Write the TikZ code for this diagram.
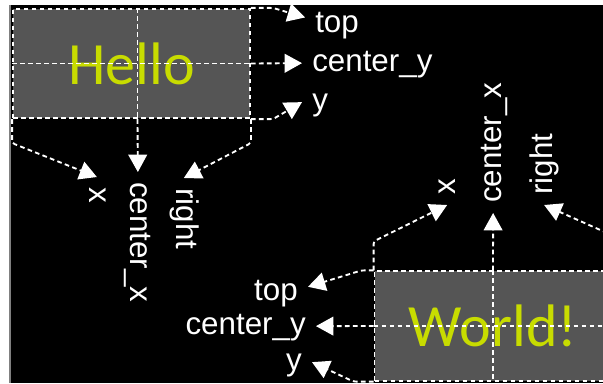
\documentclass[tikz,border=0pt]{standalone}
\usepackage{fontspec}
\setmainfont{Liberation Sans}
\newfontfamily\boxfont{Carlito}
\usetikzlibrary{arrows.meta}
\definecolor{boxgray}{RGB}{85,85,85}
\definecolor{lime}{RGB}{200,220,0}

\begin{document}
\begin{tikzpicture}[x=0.75pt, y=-0.75pt,
    textbox/.style={draw=white, fill=boxgray, line width=1.4pt, dash pattern=on 3.5pt off 2.5pt,
        minimum width=177.75pt, minimum height=82pt, inner sep=0pt,
        font=\boxfont\fontsize{45pt}{54pt}\selectfont, text=lime},
    guide/.style={draw=white, line width=1.4pt, dash pattern=on 3.5pt off 2.5pt},
    pointer/.style={guide, rounded corners=2pt, -{Triangle[length=13pt, width=14pt]}},
    anchortext/.style={text=white, font=\fontsize{23.5pt}{28pt}\selectfont,
        inner xsep=7.5pt, inner ysep=0pt, text height=16.5pt, text depth=4.7pt}]
    % Window
    \useasboundingbox (0,0) rectangle (603,383);
    \clip (0,0) rectangle (603,383);
    \fill[white] (0,0) rectangle (603,383);
    \fill[black] (9,5) rectangle (603,383);
    \draw[gray, line width=1.5pt] (10,5) -- (10,383);

    % Boxes
    \node[textbox] (hello) at (131.5,63.5) {Hello};
    \node[textbox] (world) at (493,326) {World!};
    \draw[guide] ([xshift=4.5pt]hello.north) -- ([xshift=4.5pt]hello.south);
    \draw[guide] (hello.west) -- (hello.east);
    \draw[guide] (world.north) -- (world.south);
    \draw[guide] (world.west) -- (world.east);

    % Hello labels
    \node[anchortext, anchor=base west] (htop) at (305,32) {top};
    \node[anchortext, anchor=base west] (hcy) at (302,71) {center\_y};
    \node[anchortext, anchor=base west] (hy) at (302,110) {y};
    \node[anchortext, anchor=base west, rotate=-90] (hx) at (89,177) {x};
    \node[anchortext, anchor=base west, rotate=-90] (hcx) at (130,172) {center\_x};
    \node[anchortext, anchor=base west, rotate=-90] (hr) at (176,178) {right};

    % World labels
    \node[anchortext, anchor=base east] (wtop) at (308,300) {top};
    \node[anchortext, anchor=base east] (wcy) at (316,334) {center\_y};
    \node[anchortext, anchor=base east] (wy) at (312,370) {y};
    \node[anchortext, anchor=base west, rotate=90] (wx) at (455,205) {x};
    \node[anchortext, anchor=base west, rotate=90] (wcx) at (501,213) {center\_x};
    \node[anchortext, anchor=base west, rotate=90] (wr) at (552,205) {right};

    % Hello arrows
    \draw[pointer] (hello.north east) -- ++(22,0) -- ([yshift=5pt]htop.west);
    \draw[pointer] (hello.east) -- (hcy.west);
    \draw[pointer] (hello.south east) -- ++(22,0) -- (hy.west);
    \draw[pointer] (hello.south west) -- ++(0,24) -- (hx.west);
    \draw[pointer] ([xshift=4.5pt]hello.south) -- (hcx.west);
    \draw[pointer] (hello.south east) -- ++(0,24) -- (hr.west);

    % World arrows
    \draw[pointer] (world.north west) -- ++(-12,0) -- ([yshift=4pt]wtop.east);
    \draw[pointer] (world.west) -- (wcy.east);
    \draw[pointer] (world.south west) -- ++(-20,0) -- (wy.east);
    \draw[pointer] (world.north west) -- ++(0,-29) -- (wx.west);
    \draw[pointer] (world.north) -- (wcx.west);
    \draw[pointer] (world.north east) -- ++(0,-35) -- (wr.west);
\end{tikzpicture}
\end{document}
